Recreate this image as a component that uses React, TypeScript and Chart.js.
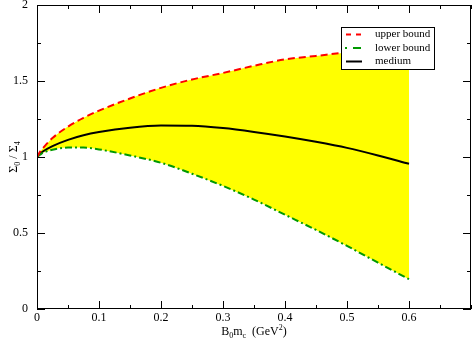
import React, { useEffect, useRef } from 'react';
import { Chart, registerables } from 'chart.js';

Chart.register(...registerables);

const xValues = [0, 0.005, 0.01, 0.025, 0.05, 0.075, 0.1, 0.15, 0.2, 0.25, 0.3, 0.35, 0.4, 0.45, 0.5, 0.55, 0.6];
const upperBound = [1, 1.035, 1.06, 1.125, 1.2, 1.258, 1.305, 1.385, 1.455, 1.51, 1.553, 1.6, 1.642, 1.665, 1.688, 1.705, 1.72];
const lowerBound = [1, 1.015, 1.028, 1.048, 1.062, 1.062, 1.05, 1.01, 0.962, 0.89, 0.81, 0.72, 0.62, 0.52, 0.415, 0.305, 0.196];
const medium = [1, 1.022, 1.038, 1.072, 1.113, 1.143, 1.164, 1.193, 1.207, 1.205, 1.19, 1.165, 1.135, 1.1, 1.06, 1.01, 0.955];

const xTickLabels = [0, 0.1, 0.2, 0.3, 0.4, 0.5, 0.6];
const yTickLabels = [0, 0.5, 1, 1.5, 2];
const xMinorTicks = [0.05, 0.15, 0.25, 0.35, 0.45, 0.55, 0.65, 0.7];
const yMinorTicks = [0.25, 0.75, 1.25, 1.75];
const legendLabels = ['upper bound', 'lower bound', 'medium'];

const FONT = '"Liberation Serif", "Times New Roman", serif';

type Part = { t: string; sub?: boolean; sup?: boolean };

function drawRich(ctx: CanvasRenderingContext2D, parts: Part[], cx: number, y: number, size: number) {
  const small = Math.round(size * 0.7);
  let total = 0;
  const widths = parts.map((p) => {
    ctx.font = `${p.sub || p.sup ? small : size}px ${FONT}`;
    const w = ctx.measureText(p.t).width;
    total += w;
    return w;
  });
  let x = cx - total / 2;
  ctx.textAlign = 'left';
  ctx.textBaseline = 'alphabetic';
  parts.forEach((p, i) => {
    ctx.font = `${p.sub || p.sup ? small : size}px ${FONT}`;
    const dy = p.sub ? 3 : p.sup ? -5 : 0;
    ctx.fillText(p.t, x, y + dy);
    x += widths[i];
  });
}

const framePlugin = {
  id: 'frame',
  afterDraw(chart: any) {
    const ctx: CanvasRenderingContext2D = chart.ctx;
    const { left, right, top, bottom } = chart.chartArea;
    const xs = chart.scales.x;
    const ys = chart.scales.y;
    ctx.save();
    ctx.strokeStyle = '#000';
    ctx.fillStyle = '#000';
    ctx.lineWidth = 1;
    ctx.setLineDash([]);
    // frame
    ctx.strokeRect(left + 0.5, top + 0.5, right - left - 1, bottom - top - 1);
    // ticks
    const major = 8;
    const minor = 4;
    ctx.beginPath();
    const xt = (v: number, len: number) => {
      const px = Math.round(xs.getPixelForValue(v)) + 0.5;
      ctx.moveTo(px, bottom);
      ctx.lineTo(px, bottom - len);
      ctx.moveTo(px, top);
      ctx.lineTo(px, top + len);
    };
    const yt = (v: number, len: number) => {
      const py = Math.round(ys.getPixelForValue(v)) + 0.5;
      ctx.moveTo(left, py);
      ctx.lineTo(left + len, py);
      ctx.moveTo(right, py);
      ctx.lineTo(right - len, py);
    };
    xTickLabels.forEach((v) => xt(v, major));
    xMinorTicks.forEach((v) => xt(v, minor));
    yTickLabels.forEach((v) => yt(v, major));
    yMinorTicks.forEach((v) => yt(v, minor));
    ctx.stroke();

    // tick labels
    ctx.font = `12px ${FONT}`;
    ctx.textAlign = 'center';
    ctx.textBaseline = 'top';
    xTickLabels.forEach((v) => {
      ctx.fillText(String(v), xs.getPixelForValue(v), bottom + 3);
    });
    ctx.textAlign = 'right';
    ctx.textBaseline = 'middle';
    yTickLabels.forEach((v) => {
      ctx.fillText(String(v), left - 9, ys.getPixelForValue(v));
    });

    // axis titles
    drawRich(
      ctx,
      [{ t: 'B' }, { t: '0', sub: true }, { t: 'm' }, { t: 'c', sub: true }, { t: '  (GeV' }, { t: '2', sup: true }, { t: ')' }],
      (left + right) / 2,
      335,
      12
    );
    ctx.save();
    ctx.translate(17, (top + bottom) / 2);
    ctx.rotate(-Math.PI / 2);
    drawRich(ctx, [{ t: 'Σ' }, { t: '0', sub: true }, { t: ' / Σ' }, { t: '4', sub: true }], 0, 0, 12);
    ctx.restore();

    // legend
    const bx = 341.5, by = 27.5, bw = 93, bh = 42;
    ctx.fillStyle = '#fff';
    ctx.fillRect(bx, by, bw, bh);
    ctx.strokeStyle = '#000';
    ctx.lineWidth = 1;
    ctx.strokeRect(bx, by, bw, bh);
    const rows = [34.5, 48, 61.5];
    const styles = [
      { color: '#ff0000', dash: [5, 5], x0: 346, x1: 362 },
      { color: '#009900', dash: [2, 6, 8, 6], x0: 345, x1: 361 },
      { color: '#000000', dash: [], x0: 346, x1: 362 },
    ];
    styles.forEach((s, i) => {
      ctx.beginPath();
      ctx.strokeStyle = s.color;
      ctx.lineWidth = 2;
      ctx.setLineDash(s.dash);
      ctx.moveTo(s.x0, rows[i]);
      ctx.lineTo(s.x1, rows[i]);
      ctx.stroke();
    });
    ctx.setLineDash([]);
    ctx.fillStyle = '#000';
    ctx.font = `11px ${FONT}`;
    ctx.textAlign = 'left';
    ctx.textBaseline = 'middle';
    legendLabels.forEach((l, i) => ctx.fillText(l, 375, rows[i]));
    ctx.restore();
  },
};

export default function App() {
  const ref = useRef<HTMLCanvasElement>(null);
  useEffect(() => {
    document.body.style.margin = '0';
    const toPts = (ys: number[]) => xValues.map((x, i) => ({ x, y: ys[i] }));
    const chart = new Chart(ref.current as HTMLCanvasElement, {
      type: 'line',
      data: {
        datasets: [
          {
            label: legendLabels[0],
            data: toPts(upperBound),
            borderColor: '#ff0000',
            borderWidth: 2,
            borderDash: [7, 4],
            backgroundColor: '#ffff00',
            fill: 1,
            pointRadius: 0,
            cubicInterpolationMode: 'monotone',
          },
          {
            label: legendLabels[1],
            data: toPts(lowerBound),
            borderColor: '#009900',
            borderWidth: 2,
            borderDash: [7, 3, 2, 3],
            fill: false,
            pointRadius: 0,
            cubicInterpolationMode: 'monotone',
          },
          {
            label: legendLabels[2],
            data: toPts(medium),
            borderColor: '#000000',
            borderWidth: 2,
            fill: false,
            pointRadius: 0,
            cubicInterpolationMode: 'monotone',
          },
        ],
      },
      options: {
        responsive: false,
        animation: false,
        layout: { padding: { top: 5, right: 2, left: 0, bottom: 0 } },
        plugins: {
          legend: { display: false },
          tooltip: { enabled: false },
          filler: { drawTime: 'beforeDatasetsDraw', propagate: false },
        } as any,
        scales: {
          x: {
            type: 'linear',
            min: 0,
            max: 0.7,
            grid: { display: false },
            border: { display: false },
            ticks: { display: false },
            afterFit: (s: any) => {
              s.height = 36;
            },
          },
          y: {
            type: 'linear',
            min: 0,
            max: 2,
            grid: { display: false },
            border: { display: false },
            ticks: { display: false },
            afterFit: (s: any) => {
              s.width = 37;
            },
          },
        },
      } as any,
      plugins: [framePlugin],
    });
    return () => chart.destroy();
  }, []);
  return <canvas ref={ref} width={473} height={345} style={{ display: 'block' }} />;
}
